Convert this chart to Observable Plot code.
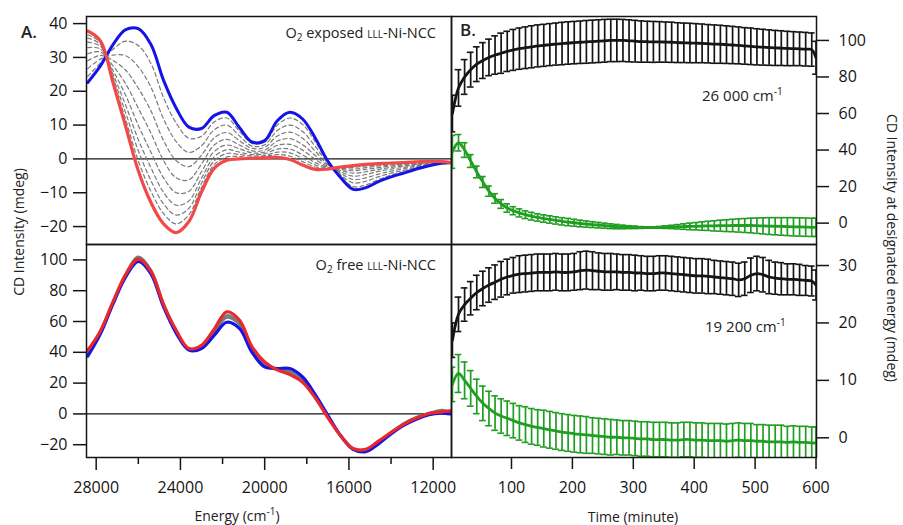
<!DOCTYPE html>
<html><head><meta charset="utf-8">
<script src="https://cdn.jsdelivr.net/npm/d3@7"></script>
<script src="https://cdn.jsdelivr.net/npm/@observablehq/plot@0.6"></script>
<style>
body{margin:0;background:#fff;}
#wrap{position:relative;width:903px;height:525px;font-family:"Open Sans",sans-serif;color:#222;overflow:hidden;background:#fff}
#wrap svg{position:absolute;overflow:visible}
.lbl{position:absolute;font-size:15px;white-space:nowrap;line-height:1}
.lbl sup{font-size:10px;vertical-align:6px;line-height:0}
.lbl sub{font-size:10px;vertical-align:-3px;line-height:0}
.sc{font-variant:small-caps}
</style></head><body><div id="wrap"></div>
<script>
// ---------- Panel A data (energy in cm-1, CD in mdeg) ----------
const energy = [28400,27800,27200,26600,26000,25400,24800,24200,23600,23000,22400,21800,21200,20600,20000,19400,18800,18200,17600,17000,16400,15800,15200,14600,14000,13400,12800,12200,11600,11200];
const blueTop = [22.6,27.5,33.8,38.2,38.5,33.8,23.2,15,9.4,9.0,12.8,13.8,9.3,5.0,5.4,11.3,13.8,11.8,6.2,-0.7,-5.5,-9,-8.5,-6.7,-5.3,-4.2,-3,-2,-1.3,-1.1];
const redTop = [37.8,34.9,22.5,9.6,-3.5,-12.9,-19.2,-21.8,-18.5,-9.8,-2.8,-0.4,0,0.2,0.3,0.5,-0.2,-1.8,-3.1,-3,-2.4,-2,-1.6,-1.4,-1.2,-1.1,-0.9,-0.7,-0.8,-1];
const grayTop = [
 [24.4,28.4,32.4,34.8,33.5,28.2,18.1,10.6,6.1,6.7,10.9,12.1,8.2,4.6,5.0,10.0,12.1,10.2,5.1,-1.0,-5.1,-8.2,-7.7,-6.1,-4.8,-3.8,-2.7,-1.8,-1.2,-1.1],
 [26.7,29.5,30.7,30.5,27.2,21.2,11.8,5.1,1.9,3.9,8.6,10.0,6.8,3.8,4.2,8.4,10.0,8.1,3.7,-1.3,-4.7,-7.1,-6.6,-5.3,-4.2,-3.4,-2.4,-1.6,-1.2,-1.1],
 [29.0,30.6,29.1,26.2,20.9,14.2,5.4,-0.5,-2.3,1.1,6.2,7.8,5.4,3.1,3.4,6.8,7.9,6.1,2.3,-1.7,-4.2,-6.1,-5.6,-4.5,-3.6,-2.9,-2.1,-1.5,-1.1,-1.1],
 [31.1,31.6,27.5,22.2,15.0,7.6,-0.5,-5.6,-6.2,-1.5,4.1,5.8,4.1,2.4,2.6,5.3,6.0,4.2,1.0,-2.0,-3.8,-5.1,-4.6,-3.7,-3.0,-2.5,-1.8,-1.3,-1.0,-1.1],
 [32.9,32.5,26.1,18.8,9.9,2.0,-5.6,-10.0,-9.6,-3.8,2.2,4.1,3.0,1.8,2.0,4.0,4.3,2.6,-0.1,-2.3,-3.4,-4.2,-3.8,-3.1,-2.5,-2.1,-1.6,-1.1,-1.0,-1.0],
 [34.5,33.3,25.0,15.9,5.7,-2.6,-9.9,-13.7,-12.4,-5.7,0.6,2.7,2.0,1.3,1.5,2.9,2.9,1.2,-1.1,-2.5,-3.1,-3.5,-3.1,-2.6,-2.1,-1.8,-1.4,-1.0,-0.9,-1.0],
 [35.7,33.9,24.1,13.6,2.4,-6.4,-13.3,-16.6,-14.6,-7.2,-0.6,1.6,1.3,0.9,1.0,2.0,1.8,0.1,-1.8,-2.7,-2.8,-3.0,-2.6,-2.1,-1.8,-1.5,-1.2,-0.9,-0.9,-1.0],
 [36.7,34.4,23.3,11.6,-0.6,-9.6,-16.2,-19.2,-16.5,-8.5,-1.7,0.6,0.7,0.5,0.7,1.3,0.8,-0.8,-2.4,-2.8,-2.6,-2.5,-2.1,-1.8,-1.5,-1.3,-1.0,-0.8,-0.8,-1.0]
];
const blueBot = [37.5,52,71.5,89,99,91,69.5,52.5,41.5,42.5,51,59.5,55.5,40,30.5,29.5,29.5,24,12.5,-1,-14,-23,-24.5,-19.5,-13,-7.5,-3.5,-0.5,0.5,0];
const redBot = [41.3,53.9,72.9,90.5,100.5,92.5,71,54.3,42.5,44.5,55,66.3,61,43.6,33.7,28.6,25.5,20.6,10.5,-2.4,-14,-22.5,-23,-17.7,-12,-6.8,-2.7,0.3,1.3,2];
const grayBot = [
 [40,53,72.5,91,102,93.5,71.5,54,42,43.5,53.5,64,59,42.5,32,28.5,27,22,11.5,-1.5,-14,-22.5,-23,-18,-12,-6,-2,0.5,1.5,2],
 [39,53,72,90.5,101,92.5,70.5,53.5,42,43,52.5,62.5,58,41.5,31.5,29,28,22.5,12,-1.5,-14,-22.8,-23.8,-18.8,-12.5,-6.5,-2.5,0.5,2.5,1.5]
];
const energyTicks = [28000,24000,20000,16000,12000];
const energyMinorTicks = [26000,22000,18000,14000];

// ---------- Panel B data (time in minutes) ----------
const times = [3,13,23,33,43,53,63,73,83,93,103,113,123,133,143,153,163,173,183,193,203,213,223,233,243,253,263,273,283,293,303,313,323,333,343,353,363,373,383,393,403,413,423,433,443,453,463,473,483,493,503,513,523,533,543,553,563,573,583,593,600];
const black26000 = [60,74,80,84,87,89,90.7,92,93,94,94.8,95.5,96,96.5,97,97.3,97.7,98,98.3,98.6,98.8,99,99.2,99.4,99.6,99.8,100,100,100,99.8,99.6,99.4,99.3,99.2,99.2,99.1,99,98.8,98.7,98.6,98.5,98.4,98.2,98,97.9,97.7,97.5,97.3,97,96.8,96.5,96.3,96.1,95.9,95.8,95.6,95.5,95.4,95.2,95,90.5];
const black26000Err = [10,10,9.5,9.5,9.5,9.8,10,10.5,11,11,11.2,11.3,11.4,11.5,11.5,11.5,11.5,11.5,11.6,11.6,11.6,11.6,11.7,11.7,11.7,11.7,11.6,11.6,11.5,11.5,11.4,11.3,11.2,11.2,11.1,11,11,10.9,10.8,10.8,10.7,10.6,10.5,10.5,10.4,10.3,10.2,10.1,10,10,9.9,9.8,9.7,9.6,9.5,9.4,9.3,9.2,9.2,9.1,9];
const green26000 = [39,44,40,34,28,22.5,17.5,13.5,10.5,8.3,6.8,5.6,4.6,3.8,3.1,2.5,2.0,1.5,1.0,0.6,0.2,-0.2,-0.5,-0.8,-1.1,-1.4,-1.7,-1.9,-2.1,-2.2,-2.3,-2.4,-2.4,-2.4,-2.3,-2.2,-2.1,-2.0,-1.9,-1.8,-1.7,-1.6,-1.5,-1.5,-1.4,-1.4,-1.3,-1.3,-1.3,-1.3,-1.4,-1.5,-1.6,-1.7,-1.8,-1.9,-2.0,-2.1,-2.2,-2.3,-2.3];
const green26000Err = [9,4.5,4,3.5,3.2,3,2.8,2.6,2.4,2.3,2.2,2.2,2.1,2.1,2,2,2,2,2,2,1.9,1.8,1.7,1.6,1.5,1.4,1.3,1.2,1.0,0.8,0.7,0.5,0.4,0.4,0.5,0.7,0.9,1.2,1.5,1.8,2.0,2.3,2.5,2.8,3.0,3.2,3.4,3.6,3.8,4.0,4.2,4.4,4.6,4.7,4.8,4.9,5,5,5,5,5];
const black19200 = [17,21.5,23.2,24.3,25.3,26,26.6,27.1,27.6,28,28.3,28.5,28.6,28.7,28.8,28.8,28.8,28.9,28.8,28.8,28.9,29.1,29.2,29.1,29.0,28.9,28.9,28.9,28.8,28.8,28.7,28.7,28.6,28.6,28.7,28.7,28.6,28.5,28.4,28.3,28.2,28.2,28.1,28.0,27.9,27.8,27.7,27.5,27.7,28.3,28.6,28.4,28.0,27.8,27.7,27.6,27.6,27.5,27.4,27.3,26.6];
const black19200Err = [3,3,2.9,2.9,3,3,3,3,3.1,3.1,3.1,3.2,3.2,3.2,3.2,3.2,3.2,3.2,3.2,3.2,3.2,3.3,3.3,3.3,3.2,3.2,3.2,3.1,3.1,3.1,3.1,3,3,3,3,3,3,3,3,3,3,3,3,2.9,2.9,2.9,2.9,2.9,2.9,3,3,3,2.9,2.8,2.8,2.7,2.7,2.7,2.6,2.6,2.6];
const green19200 = [9.3,11.2,10.0,8.6,7.2,6.0,5.1,4.3,3.8,3.4,3.0,2.6,2.3,2.0,1.8,1.6,1.4,1.2,1.0,0.85,0.7,0.6,0.5,0.4,0.3,0.2,0.1,0.1,0,0,-0.1,-0.2,-0.2,-0.3,-0.3,-0.3,-0.4,-0.4,-0.3,-0.3,-0.4,-0.4,-0.5,-0.5,-0.5,-0.6,-0.5,-0.4,-0.5,-0.5,-0.6,-0.6,-0.7,-0.7,-0.7,-0.8,-0.7,-0.8,-0.8,-0.9,-0.9];
const green19200Err = [3,3.3,3.2,3.1,3,3,3,3,3,3,3,3,3.1,3.1,3.1,3.2,3.2,3.2,3.2,3.2,3.2,3.2,3.2,3.1,3.1,3.1,3.1,3,3,3,3,3,3,3,3,3,3,3,3,3,3,3,3,3,3,3,3,3,3,3,2.9,2.9,2.9,2.9,2.9,2.8,2.8,2.8,2.8,2.8,2.8];
const timeTicks = [100,200,300,400,500,600];

// ---------- helpers ----------
const wrap = document.getElementById("wrap");
const INK = "#151515", BLUE = "#1414e6", RED_T = "#f24848", RED_B = "#e8282a", GRAY = "#7a7a7a", GREEN = "#1f9e22";
const FONT = "'Open Sans', sans-serif";

function place(svg, left, top) {
  svg.style.left = left + "px";
  svg.style.top = top + "px";
  wrap.appendChild(svg);
}
function label(html, x, y, align = "left", rot = 0, extra = "") {
  const d = document.createElement("div");
  d.className = "lbl";
  d.innerHTML = html;
  d.style.left = x + "px";
  d.style.top = y + "px";
  const tx = align === "left" ? "0" : align === "right" ? "-100%" : "-50%";
  d.style.transform = `translate(${tx},-50%)` + (rot ? ` rotate(${rot}deg)` : "");
  if (rot) d.style.transformOrigin = "50% 50%";
  if (extra) d.style.cssText += extra;
  wrap.appendChild(d);
}
const rowsOf = (xs, ys, s) => xs.map((x, i) => ({x, v: ys[i], s}));
const errRows = (vs, es) => times.map((t, i) => ({t, v: vs[i], e: es[i]}));
const baseStyle = {fontFamily: FONT, fontSize: "16px", color: INK, background: "transparent", overflow: "visible"};

// ---------- Panel A top ----------
const grayTopRows = grayTop.flatMap((g, k) => rowsOf(energy, g, "g" + k));
place(Plot.plot({
  width: 451, height: 244, marginLeft: 86, marginRight: 0, marginTop: 16, marginBottom: 0,
  style: baseStyle,
  x: {domain: [28460, 11130], axis: null},
  y: {domain: [-25.3, 42.1]},
  marks: [
    Plot.ruleY([0], {stroke: INK, strokeWidth: 1.4}),
    Plot.line(grayTopRows, {x: "x", y: "v", z: "s", stroke: GRAY, strokeWidth: 1.2, strokeDasharray: "4,3", curve: "catmull-rom", clip: true}),
    Plot.line(rowsOf(energy, blueTop, "b"), {x: "x", y: "v", stroke: BLUE, strokeWidth: 3, curve: "catmull-rom", clip: true}),
    Plot.line(rowsOf(energy, redTop, "r"), {x: "x", y: "v", stroke: RED_T, strokeWidth: 3.2, curve: "catmull-rom", clip: true}),
    Plot.axisY({anchor: "left", ticks: [-20, -10, 0, 10, 20, 30, 40], tickSize: 13, tickPadding: 6, label: null, stroke: INK, strokeWidth: 1.5}),
    Plot.frame({stroke: INK, strokeWidth: 1.5})
  ]
}), 0, 0);

// ---------- Panel A bottom ----------
const grayBotRows = grayBot.flatMap((g, k) => rowsOf(energy, g, "g" + k));
place(Plot.plot({
  width: 451, height: 281, marginLeft: 86, marginRight: 0, marginTop: 0, marginBottom: 68,
  style: baseStyle,
  x: {domain: [28460, 11130]},
  y: {domain: [-28.3, 110]},
  marks: [
    Plot.ruleY([0], {stroke: INK, strokeWidth: 1.4}),
    Plot.line(grayBotRows, {x: "x", y: "v", z: "s", stroke: GRAY, strokeWidth: 2.4, curve: "catmull-rom", clip: true}),
    Plot.line(rowsOf(energy, blueBot, "b"), {x: "x", y: "v", stroke: BLUE, strokeWidth: 3.2, curve: "catmull-rom", clip: true}),
    Plot.line(rowsOf(energy, redBot, "r"), {x: "x", y: "v", stroke: RED_B, strokeWidth: 3.2, curve: "catmull-rom", clip: true}),
    Plot.axisY({anchor: "left", ticks: [-20, 0, 20, 40, 60, 80, 100], tickSize: 13, tickPadding: 6, label: null, stroke: INK, strokeWidth: 1.5}),
    Plot.axisX({anchor: "bottom", ticks: energyTicks, tickSize: 13, tickPadding: 11, tickFormat: "d", label: null, stroke: INK, strokeWidth: 1.5}),
    Plot.axisX({anchor: "bottom", ticks: energyMinorTicks, tickSize: 7, tickFormat: () => "", label: null, stroke: INK, strokeWidth: 1.5}),
    Plot.frame({stroke: INK, strokeWidth: 1.5})
  ]
}), 0, 244);

// ---------- Panel B ----------
function errMarks(rows, color, lw) {
  return [
    Plot.ruleX(rows, {x: "t", y1: d => d.v - d.e, y2: d => d.v + d.e, stroke: color, strokeWidth: 1.7, clip: true}),
    Plot.ruleY(rows, {y: d => d.v + d.e, x1: d => d.t - 5.5, x2: d => d.t + 5.5, stroke: color, strokeWidth: 1.6, clip: true}),
    Plot.ruleY(rows, {y: d => d.v - d.e, x1: d => d.t - 5.5, x2: d => d.t + 5.5, stroke: color, strokeWidth: 1.6, clip: true}),
    Plot.line(rows, {x: "t", y: "v", stroke: color, strokeWidth: lw, curve: "catmull-rom", clip: true})
  ];
}
place(Plot.plot({
  width: 452, height: 244, marginLeft: 0, marginRight: 87, marginTop: 16, marginBottom: 0,
  style: baseStyle,
  x: {domain: [1.5, 600.8], axis: null},
  y: {domain: [-11.7, 113.1]},
  marks: [
    ...errMarks(errRows(green26000, green26000Err), GREEN, 2.8),
    ...errMarks(errRows(black26000, black26000Err), INK, 2.8),
    Plot.axisY({anchor: "right", ticks: [0, 20, 40, 60, 80, 100], tickSize: 12, tickPadding: 10, label: null, stroke: INK, strokeWidth: 1.5}),
    Plot.frame({stroke: INK, strokeWidth: 1.5})
  ]
}), 451, 0);

place(Plot.plot({
  width: 452, height: 281, marginLeft: 0, marginRight: 87, marginTop: 0, marginBottom: 68,
  style: baseStyle,
  x: {domain: [1.5, 600.8]},
  y: {domain: [-3.43, 33.66]},
  marks: [
    ...errMarks(errRows(green19200, green19200Err), GREEN, 2.8),
    ...errMarks(errRows(black19200, black19200Err), INK, 2.8),
    Plot.axisY({anchor: "right", ticks: [0, 10, 20, 30], tickSize: 12, tickPadding: 10, label: null, stroke: INK, strokeWidth: 1.5}),
    Plot.axisX({anchor: "bottom", ticks: timeTicks, tickSize: 12, tickPadding: 12, tickFormat: "d", label: null, stroke: INK, strokeWidth: 1.5}),
    Plot.frame({stroke: INK, strokeWidth: 1.5})
  ]
}), 451, 244);

// ---------- text ----------
label("A.", 21, 31, "left", 0, "font-size:17px;font-weight:600;");
label("B.", 460, 29, "left", 0, "font-size:17px;font-weight:600;");
label('O<sub>2</sub> exposed <span class="sc">lll</span>-Ni-NCC', 436, 33, "right", 0, "font-size:14.5px;");
label('O<sub>2</sub> free <span class="sc">lll</span>-Ni-NCC', 436, 265, "right", 0, "font-size:14.5px;");
label("26 000 cm<sup>-1</sup>", 702, 95, "left");
label("19 200 cm<sup>-1</sup>", 705, 326, "left");
label("CD Intensity (mdeg)", 19, 232, "center", -90, "font-size:14px;");
label("CD Intensity at designated energy (mdeg)", 892, 248, "center", 90, "font-size:14px;");
label("Energy (cm<sup>-1</sup>)", 237, 516, "center", 0, "font-size:14px;");
label("Time (minute)", 633, 517, "center", 0, "font-size:14px;");
</script>
</body></html>
